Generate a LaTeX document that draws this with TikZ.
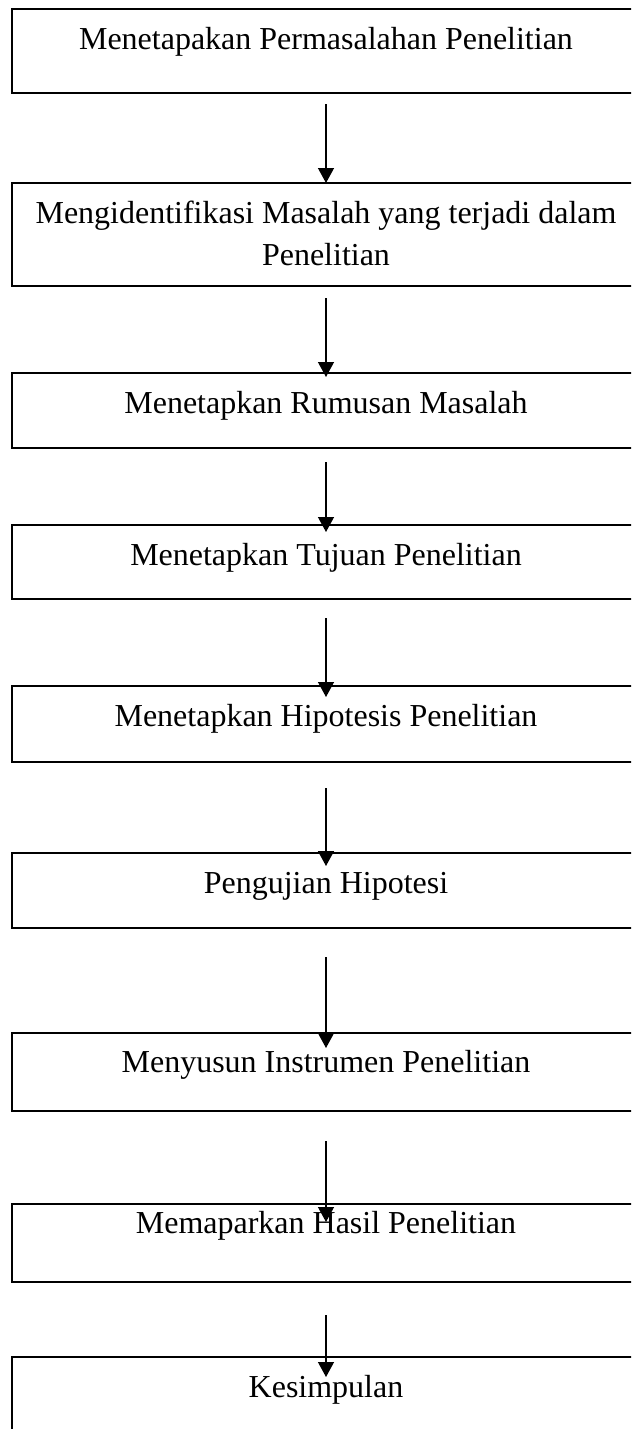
\documentclass[tikz,border=0pt]{standalone}
\usepackage{fontspec}
\setmainfont{Liberation Serif}
\usetikzlibrary{arrows.meta,calc}

\begin{document}
\begin{tikzpicture}[x=0.03cm,y=-0.03cm,
  kotak/.style={draw,line width=1.4pt,anchor=north,minimum width=18.84cm,
    inner sep=0pt,outer sep=0pt,align=center,font=\fontsize{27.3}{35.8}\selectfont},
  panah/.style={line width=1.1pt,-{Triangle[length=0.45cm,width=0.48cm]}}]
\useasboundingbox (0,0) rectangle (631,1429);
\clip (0,0) rectangle (631,1429);
\node[kotak,text height=1.2cm,text depth=1.32cm] (k1) at (326,9) {Menetapakan Permasalahan Penelitian};
\node[kotak,text height=2.46cm,text depth=0.63cm] (k2) at (326,183) {Mengidentifikasi Masalah yang terjadi dalam\\ Penelitian};
\node[kotak,text height=1.2cm,text depth=1.05cm] (k3) at (326,373) {Menetapkan Rumusan Masalah};
\node[kotak,text height=1.2cm,text depth=1.02cm] (k4) at (326,525) {Menetapkan Tujuan Penelitian};
\node[kotak,text height=1.2cm,text depth=1.08cm] (k5) at (326,686) {Menetapkan Hipotesis Penelitian};
\node[kotak,text height=1.2cm,text depth=1.05cm] (k6) at (326,853) {Pengujian Hipotesi};
\node[kotak,text height=1.17cm,text depth=1.17cm] (k7) at (326,1033) {Menyusun Instrumen Penelitian};
\node[kotak,text height=0.87cm,text depth=1.47cm] (k8) at (326,1204) {Memaparkan Hasil Penelitian};
\node[kotak,text height=1.2cm,text depth=1.8cm] (k9) at (326,1357) {Kesimpulan};
\foreach \a/\b/\g/\o in {k1/k2/11/0,k2/k3/12/4,k3/k4/14/7,k4/k5/19/11,k5/k6/26/13,k6/k7/29/15,k7/k8/30/18,k8/k9/33/20}
  \draw[panah] ($(\a.south)+(0,\g)$) -- ($(\b.north)+(0,\o)$);
\end{tikzpicture}
\end{document}
